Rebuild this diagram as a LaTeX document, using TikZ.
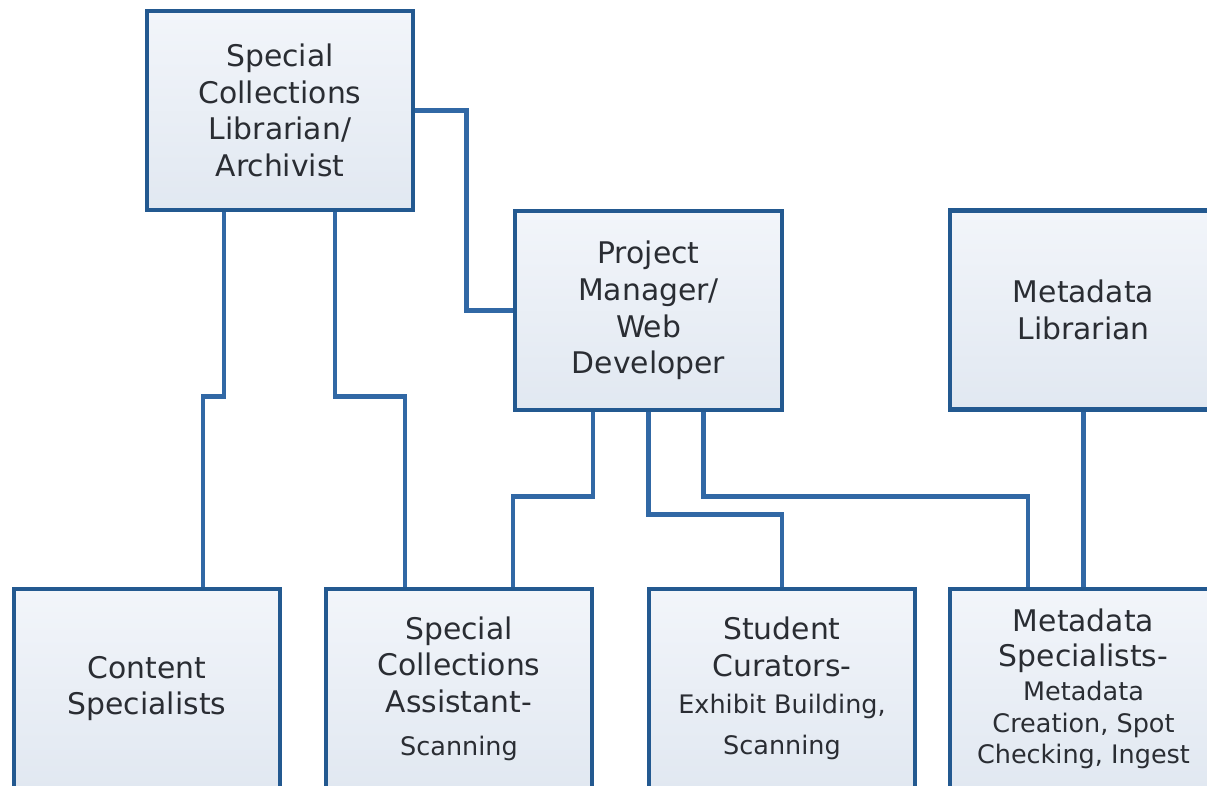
\documentclass[tikz,border=0pt]{standalone}
\usepackage{fontspec}
\newfontfamily\dvs{DejaVu Sans}
\usetikzlibrary{calc,backgrounds}
\definecolor{bordc}{HTML}{235990}
\definecolor{connc}{HTML}{3168A5}
\definecolor{txtc}{HTML}{2A2D33}
\definecolor{filltop}{HTML}{F2F5FA}
\definecolor{fillbot}{HTML}{E1E8F1}
\newcommand\bigf{\fontsize{29.8}{36.7}\selectfont}
\newcommand\smf{\fontsize{25.5}{36.7}\selectfont}
\tikzset{
  orgbox/.style={draw=bordc, line width=4.8pt, rectangle, minimum width=266pt, minimum height=199pt,
    inner sep=0pt, top color=filltop, bottom color=fillbot, align=center,
    text=txtc, font=\dvs\bigf},
  conn/.style={draw=connc, line width=4.8pt}
}
\begin{document}
\begin{tikzpicture}[x=1pt,y=-1pt]
\useasboundingbox (0,0) rectangle (1207,786);
\node[orgbox] (scl) at (280,110.5) {Special\\Collections\\Librarian/\\Archivist};
\node[orgbox, minimum width=267pt] (pm) at (648.5,310.5) {Project\\Manager/\\Web\\Developer};
\node[orgbox, minimum width=267pt] (ml) at (1083.5,310) {Metadata\\Librarian};
\node[orgbox] (content) at (147,688.5) {Content\\Specialists};
\node[orgbox] (sca) at (459,688.5) {Special\\Collections\\Assistant-\\[6pt]{\smf Scanning}};
\node[orgbox] (sc) at (782,688.5) {Student\\Curators-\\{\smf Exhibit Building,}\\[5pt]{\smf Scanning}};
\node[orgbox, minimum width=267pt] (ms) at (1083.5,688.5) {Metadata\\[-1pt]Specialists-\\[-3pt]{\smf Metadata}\\[-5pt]{\smf Creation, Spot}\\[-6pt]{\smf Checking, Ingest}};
\begin{scope}[on background layer]
\draw[conn] (scl.east) -- ++(51,0) |- (pm.west);
\draw[conn] ($(scl.south)+(-56,0)$) |- ($(content.north)+(56,-190)$) -- ($(content.north)+(56,0)$);
\draw[conn] ($(scl.south)+(55,0)$) |- ($(sca.north)+(-54,-190)$) -- ($(sca.north)+(-54,0)$);
\draw[conn] ($(pm.south)+(-55.5,0)$) |- ($(sca.north)+(54,-90)$) -- ($(sca.north)+(54,0)$);
\draw[conn] (pm.south) |- ($(sc.north)+(0,-72)$) -- (sc.north);
\draw[conn] ($(pm.south)+(55,0)$) |- ($(ms.north)+(-55.5,-90)$) -- ($(ms.north)+(-55.5,0)$);
\draw[conn] (ml.south) -- (ms.north);
\end{scope}
\end{tikzpicture}
\end{document}
